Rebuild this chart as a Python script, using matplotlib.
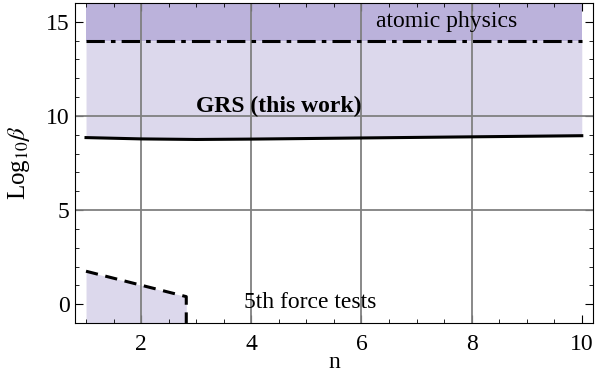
import numpy as np
import matplotlib.pyplot as plt
from matplotlib.ticker import MultipleLocator

plt.rcParams["font.family"] = ["Liberation Serif", "DejaVu Serif"]
plt.rcParams["mathtext.fontset"] = "stix"

# GRS bound (this work)
grs_n = [1, 2, 3, 4, 5, 6, 7, 8, 9, 10]
grs_logb = [8.85, 8.78, 8.75, 8.77, 8.80, 8.83, 8.86, 8.89, 8.92, 8.95]

# atomic physics bound
atomic_n = [1, 10]
atomic_logb = [14, 14]

# 5th force tests bound
force_n = [1, 2.82]
force_logb = [1.75, 0.4]

light = "#dcd8ec"
dark = "#bbb2db"
ymin, ymax = -1, 16

fig, ax = plt.subplots(figsize=(6, 3.76), dpi=100)
fig.subplots_adjust(left=0.125, right=0.988, top=0.992, bottom=0.141)

ax.fill_between(grs_n, grs_logb, atomic_logb[0], color=light, lw=0, zorder=1)
ax.fill_between(atomic_n, atomic_logb, ymax, color=dark, lw=0, zorder=1)
ax.fill_between(force_n, ymin, force_logb, color=light, lw=0, zorder=1)

for gx in [2, 4, 6, 8]:
    ax.axvline(gx, color="#808080", lw=1.3, zorder=2)
for gy in [5, 10]:
    ax.axhline(gy, color="#808080", lw=1.3, zorder=2)

ax.plot(grs_n, grs_logb, color="black", lw=2.2, zorder=3)
ax.plot(atomic_n, atomic_logb, color="black", lw=2.2, dashes=[6, 2, 1.5, 2], zorder=3)
ax.plot(force_n + [force_n[-1]], force_logb + [ymin], color="black", lw=2.2,
        dashes=[4, 2.5], zorder=3)

ax.text(7.55, 15.0, "atomic physics", fontsize=17, ha="center", va="center", zorder=4)
ax.text(4.5, 10.5, "GRS (this work)", fontsize=17, fontweight="bold",
        ha="center", va="center", zorder=4)
ax.text(5.07, 0.1, "5th force tests", fontsize=17, ha="center", va="center", zorder=4)

ax.set_xlim(0.8, 10.2)
ax.set_ylim(ymin, ymax)
ax.xaxis.set_major_locator(MultipleLocator(2))
ax.xaxis.set_minor_locator(MultipleLocator(0.5))
ax.yaxis.set_major_locator(MultipleLocator(5))
ax.yaxis.set_minor_locator(MultipleLocator(1))
ax.tick_params(which="both", direction="in", top=True, right=True, labelsize=17)
ax.tick_params(which="major", length=6)
ax.tick_params(which="minor", length=3)
ax.tick_params(axis="x", which="major", pad=8)
ax.tick_params(axis="y", which="major", pad=4)
ax.set_xlabel("n", fontsize=17, labelpad=-2)
ax.set_ylabel(r"Log$_{10}\beta$", fontsize=18, labelpad=10)

plt.savefig("out.png", dpi=100)
